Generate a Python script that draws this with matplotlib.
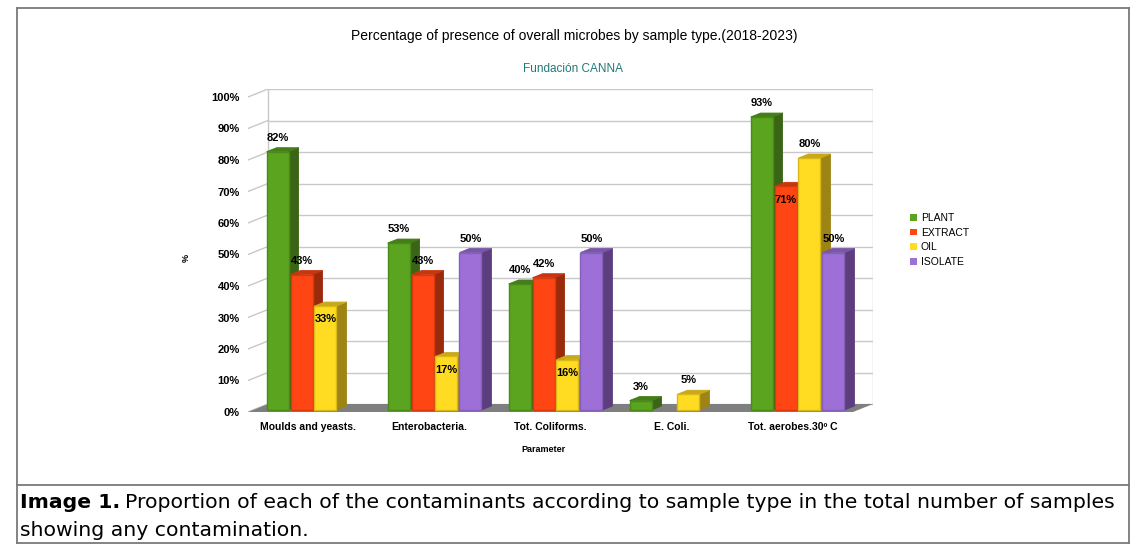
import matplotlib
matplotlib.use('Agg')
import matplotlib.pyplot as plt
from matplotlib.patches import Polygon, Patch
from matplotlib.lines import Line2D

plt.rcParams['font.family'] = ['Liberation Sans', 'DejaVu Sans']

categories = ['Moulds and yeasts.', 'Enterobacteria.', 'Tot. Coliforms.', 'E. Coli.', 'Tot. aerobes.30º C']
series = ['PLANT', 'EXTRACT', 'OIL', 'ISOLATE']
plant = [82, 53, 40, 3, 93]
extract = [43, 43, 42, 0, 71]
oil = [33, 17, 16, 5, 80]
isolate = [0, 50, 50, 0, 50]
values = [plant, extract, oil, isolate]
yticks = list(range(0, 101, 10))

# labels drawn inside the bar instead of above it (series, category)
inside = {(2, 0), (2, 1), (2, 2), (1, 4)}

front = ['#5ba41f', '#ff4513', '#ffdc21', '#9d6fd7']
side = ['#3a6516', '#9a2a0c', '#9e8414', '#5c3d7e']
top = ['#437e19', '#c8350e', '#c9a91a', '#7a56a8']
edge = ['#4a8a18', '#d83a0e', '#d9b81a', '#8460b8']

W, H = 1144, 559
fig = plt.figure(figsize=(W / 100, H / 100), dpi=100)

# pseudo-3d depth offset in data units
DX = 20 / 121
DY = 8 / 3.15

ax = fig.add_axes([248 / W, (H - 412) / H, (873 - 248) / W, (412 - 89) / H])
ax.set_xlim(0, len(categories) + DX)
ax.set_ylim(0, 100 + DY)
for s in ax.spines.values():
    s.set_visible(False)

n = len(categories)
grid_c = '#c8c8c8'
for v in yticks:
    ax.plot([DX, n + DX], [v + DY, v + DY], color=grid_c, lw=1, zorder=1)
    ax.plot([0, DX], [v, v + DY], color=grid_c, lw=1, zorder=1)
ax.plot([DX, DX], [DY, 100 + DY], color=grid_c, lw=1, zorder=1)
ax.plot([n + DX, n + DX], [DY, 100 + DY], color=grid_c, lw=1, zorder=1)

# floor
ax.add_patch(Polygon([(0, 0), (n, 0), (n + DX, DY), (DX, DY)], closed=True,
                     facecolor='#7f7f7f', edgecolor='none', zorder=2))

bw = 0.182
step = 0.198
dx0, dy0 = DX / 4, DY / 4
ddx, ddy = DX / 2, DY / 2
z = 3
for i in range(n):
    for j in range(len(series)):
        v = values[j][i]
        if v == 0:
            continue
        c = i + 0.5 + (j - 1.5) * step + dx0
        x0, x1 = c - bw / 2, c + bw / 2
        b, t = dy0, v + dy0
        ax.add_patch(Polygon([(x1, b), (x1, t), (x1 + ddx, t + ddy), (x1 + ddx, b + ddy)],
                             closed=True, facecolor=side[j], edgecolor=side[j], lw=0.6, zorder=z))
        ax.add_patch(Polygon([(x0, t), (x1, t), (x1 + ddx, t + ddy), (x0 + ddx, t + ddy)],
                             closed=True, facecolor=top[j], edgecolor=top[j], lw=0.6, zorder=z))
        ax.bar(c, v, width=bw, bottom=b, color=front[j], edgecolor=edge[j], lw=1, zorder=z)
        z += 1

# value labels on top
for i in range(n):
    for j in range(len(series)):
        v = values[j][i]
        if v == 0:
            continue
        c = i + 0.5 + (j - 1.5) * step + dx0
        off = -9.5 if (j, i) in inside else 10
        ax.annotate(f'{v}%', (c, v + dy0), xytext=(0, off), textcoords='offset points',
                    ha='center', va='center', fontsize=8, fontweight='bold', zorder=50)

ax.set_yticks(yticks)
ax.set_yticklabels([f'{v}%' for v in yticks], fontsize=8, fontweight='bold')
ax.set_xticks([i + 0.5 for i in range(n)])
ax.set_xticklabels(categories, fontsize=7.5, fontweight='bold')
ax.tick_params(axis='y', length=0, pad=6)
ax.tick_params(axis='x', length=0, pad=7)

fig.text(543 / W, 1 - 450 / H, 'Parameter', ha='center', va='center', fontsize=6.5, fontweight='bold')
fig.text(186 / W, 1 - 258 / H, '%', ha='center', va='center', rotation=90, fontsize=6.5, fontweight='bold')

fig.text(574 / W, 1 - 36 / H, 'Percentage of presence of overall microbes by sample type.(2018-2023)',
         ha='center', va='center', fontsize=10)
fig.text(573 / W, 1 - 69 / H, 'Fundación CANNA', ha='center', va='center', fontsize=8.5, color='#1f7a78')

handles = [Patch(facecolor=front[j], edgecolor='none') for j in range(len(series))]
fig.legend(handles, series, loc='center left', bbox_to_anchor=(901 / W, 1 - 240 / H), frameon=False,
           fontsize=7.5, handlelength=0.6, handleheight=0.6, handletextpad=0.4, labelspacing=0.45)

# frame around chart and caption
bc = '#7a7a7a'
for xs, ys in [([17, 1129], [8, 8]), ([17, 17], [8, 543]), ([1129, 1129], [8, 543]),
               ([17, 1129], [485, 485]), ([17, 1129], [543, 543])]:
    fig.add_artist(Line2D([x / W for x in xs], [1 - y / H for y in ys], color=bc, lw=1.3))

# caption
cap_font = ['DejaVu Sans']
cap_size = 14.7
t1 = fig.text(20 / W, 1 - 503 / H, 'Image 1.', ha='left', va='center', fontsize=cap_size,
              fontweight='bold', family=cap_font)
fig.canvas.draw()
ext = t1.get_window_extent()
fig.text(ext.x1 / W + 5 / W, 1 - 503 / H,
         'Proportion of each of the contaminants according to sample type in the total number of samples',
         ha='left', va='center', fontsize=cap_size, family=cap_font)
fig.text(20 / W, 1 - 530 / H, 'showing any contamination.', ha='left', va='center', fontsize=cap_size,
         family=cap_font)

fig.savefig('out.png', dpi=100)
